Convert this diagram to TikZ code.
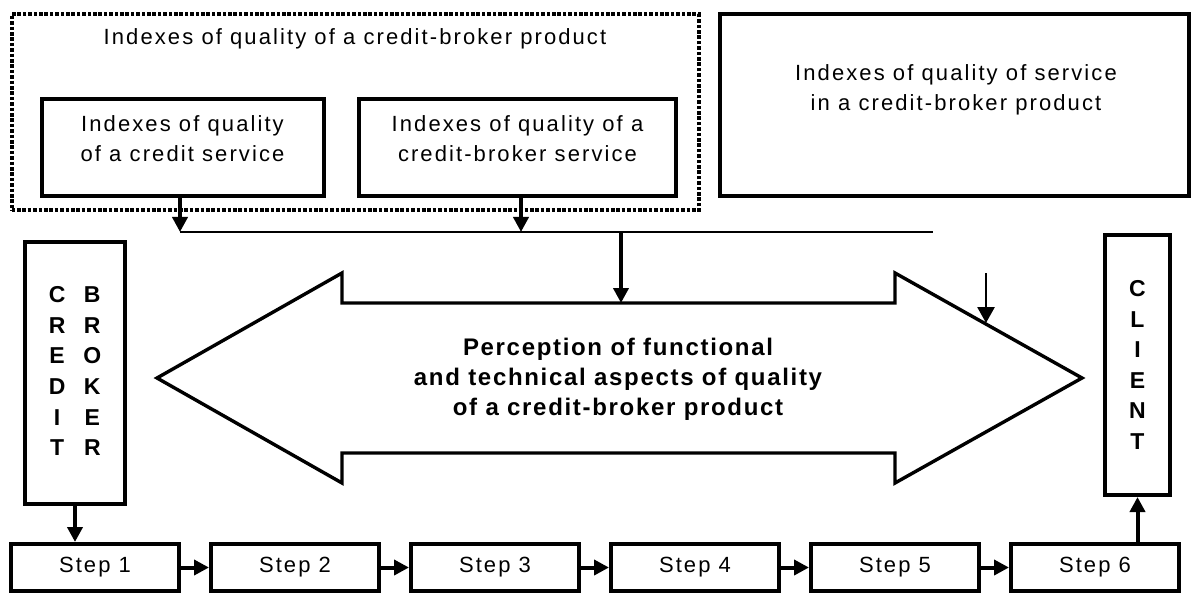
\documentclass[tikz,border=0pt]{standalone}
\usepackage{fontspec}
\setmainfont[LetterSpace=9.5]{Liberation Sans}
\usetikzlibrary{arrows.meta, positioning}

\tikzset{
    box/.style={draw, line width=2pt, inner sep=0pt},
    dotbox/.style={draw, line width=2pt, dash pattern=on 1.8pt off 0.9pt, inner sep=0pt},
    txt/.style={align=center, font=\fontsize{11}{15}\selectfont},
    stepbox/.style={box, minimum width=84pt, minimum height=23.5pt, font=\fontsize{11}{15}\selectfont},
    arr/.style={line width=2pt, -{Triangle[length=7.5pt, width=7.5pt]}},
    thinarr/.style={line width=1.4pt, -{Triangle[length=8pt, width=8.5pt]}},
}

\begin{document}
\begin{tikzpicture}[x=0.5pt, y=-0.5pt]
        \useasboundingbox (0,0) rectangle (1192,593);

        % indexes on top
        \node[dotbox, minimum width=343.5pt, minimum height=98pt] (prod) at (355,112.5){};
        \node[txt, anchor=base] (prodtxt) at (355,45){Indexes of quality of a credit-broker product};
        \node[box, minimum width=141pt, minimum height=48.5pt] (credsvc) at (183,147.5){};
        \node[txt] at (182.5,139){Indexes of quality\\of a credit service};
        \node[box, minimum width=158.5pt, minimum height=48.5pt] (brksvc) at (517.5,147.5){};
        \node[txt] at (517.5,139){Indexes of quality of a\\credit-broker service};
        \node[box, minimum width=234.5pt, minimum height=91pt] (service) at (954.5,105){};
        \node[txt] at (956,90){Indexes of quality of service\\in a credit-broker product};

        % the two sides
        \node[box, minimum width=50pt, minimum height=131pt, font=\fontsize{11.5}{15.3}\selectfont\bfseries] (broker) at (75,373){%
            \begin{tabular}{@{}c@{\hspace{9pt}}c@{}}C & B\\ R & R\\ E & O\\ D & K\\ I & E\\ T & R\end{tabular}};
        \node[box, minimum width=32.5pt, minimum height=130pt, align=center, font=\fontsize{11.5}{15.3}\selectfont\bfseries] (client) at (1137.5,365){C\\L\\I\\E\\N\\T};

        % big two-headed arrow
        \draw[line width=1.7pt, line join=miter] (157,378) -- (342,273) -- (342,303) -- (895,303) -- (895,273) -- (1082,378)
            -- (895,483) -- (895,453) -- (342,453) -- (342,483) -- cycle;
        \node[txt, font=\fontsize{12}{15}\selectfont\bfseries\addfontfeature{LetterSpace=7}] (percep) at (618,379){Perception of functional\\and technical aspects of quality\\of a credit-broker product};

        % lines and arrows
        \coordinate (busA) at (180,232);
        \coordinate (busB) at (521,232);
        \coordinate (busC) at (621,232);
        \coordinate (busEnd) at (933,232);
        \coordinate (shaft) at (621,303);
        \coordinate (fromtop) at (986,273);
        \coordinate (headedge) at (986,323);
        \draw[line width=1pt] (busA) -- (busEnd);
        \draw[arr] (credsvc.south -| busA) -- (busA);
        \draw[arr] (brksvc.south -| busB) -- (busB);
        \draw[arr] (busC) -- (shaft);
        \draw[thinarr] (fromtop) -- (headedge);

        % steps
        \foreach \i in {1,...,6}
            \node[stepbox] (s\i) at ({95+200*(\i-1)},567.5){Step \i};
        \foreach \i [evaluate=\i as \j using int(\i+1)] in {1,...,5}
            \draw[arr] (s\i.east) -- (s\j.west);

        \draw[arr] (broker.south) -- (broker.south |- s1.north);
        \draw[arr] (client.south |- s6.north) -- (client.south);

\end{tikzpicture}
\end{document}
